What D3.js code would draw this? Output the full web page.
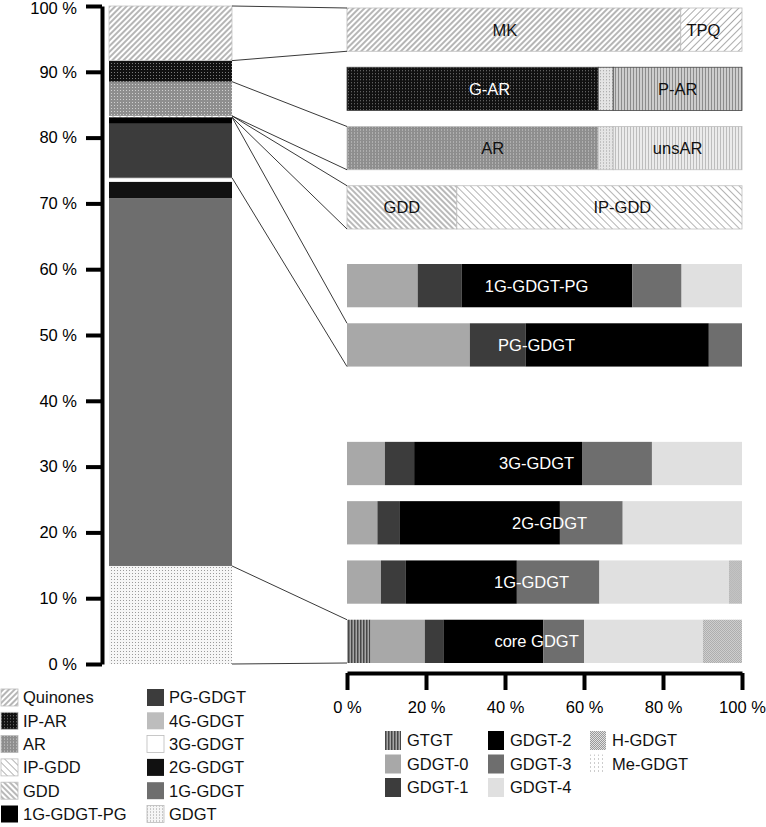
<!DOCTYPE html>
<head>
  <meta charset="utf-8">
  <script src="https://cdn.jsdelivr.net/npm/d3@7"></script>
</head>

<style>
  body { margin: 0; background: #fff; }
  svg text { font-family: "Liberation Sans", Arial, Helvetica, sans-serif; }
</style>
<body>
<script>

// ---- data ----
// left stacked bar, bottom to top (% of total lipids)
var stackCats = ["GDGT", "1G-GDGT", "2G-GDGT", "3G-GDGT", "4G-GDGT", "PG-GDGT",
                 "1G-GDGT-PG", "GDD", "IP-GDD", "AR", "IP-AR", "Quinones"];
var stackVals = [14.9, 55.9, 2.5, 0.5, 0.1, 8.2, 1.0, 0.05, 0.15, 5.2, 3.2, 8.3];

// upper breakdown rows
var upperRows = ["Quinones", "IP-AR", "AR", "GDD"];
var quinoneParts = ["MK", "TPQ"],              quinoneVals = [84.5, 15.5];
var ipArParts    = ["G-AR", "minor", "P-AR"],  ipArVals    = [63.6, 3.8, 32.6];
var arParts      = ["AR", "minor", "unsAR"],   arVals      = [63.6, 3.8, 32.6];
var gddParts     = ["GDD", "IP-GDD"],          gddVals     = [27.8, 72.2];

// core lipid composition of the GDGT classes
var coreTypes = ["GTGT", "GDGT-0", "GDGT-1", "GDGT-2", "GDGT-3", "GDGT-4", "H-GDGT", "Me-GDGT"];
var lowerRows = ["1G-GDGT-PG", "PG-GDGT", "4G-GDGT", "3G-GDGT", "2G-GDGT", "1G-GDGT", "core GDGT"];
var core1GPG  = [0,   17.9, 11.1, 43.2, 12.5, 15.3, 0,   0];
var corePG    = [0,   31.1, 14.1, 46.4,  8.4,  0,   0,   0];
var core4G    = null;
var core3G    = [0,    9.6,  7.4, 42.5, 17.7, 22.8, 0,   0];
var core2G    = [0,    7.7,  5.7, 40.5, 15.9, 30.2, 0,   0];
var core1G    = [0,    8.6,  6.3, 28.1, 20.9, 32.8, 3.3, 0];
var coreCore  = [6.0, 13.7,  4.7, 25.3, 10.3, 30.1, 9.9, 0];

var leftTicks = d3.range(0, 101, 10);
var bottomTicks = d3.range(0, 101, 20);

// ---- layout ----
var width = 766, height = 827, fontSize = 16.5;

var svg = d3.select("body").append("svg")
    .attr("width", width)
    .attr("height", height);

var defs = svg.append("defs");

function hatch(id, size, color, w, angle) {
  var p = defs.append("pattern").attr("id", id)
      .attr("patternUnits", "userSpaceOnUse")
      .attr("width", size).attr("height", size)
      .attr("patternTransform", "rotate(" + angle + ")");
  p.append("rect").attr("width", size).attr("height", size).attr("fill", "#fff");
  p.append("line").attr("x1", size / 2).attr("x2", size / 2).attr("y1", 0).attr("y2", size)
      .attr("stroke", color).attr("stroke-width", w);
}
function dots(id, size, bg, fg, r) {
  var p = defs.append("pattern").attr("id", id)
      .attr("patternUnits", "userSpaceOnUse")
      .attr("width", size).attr("height", size);
  p.append("rect").attr("width", size).attr("height", size).attr("fill", bg);
  p.append("rect").attr("width", r).attr("height", r).attr("fill", fg);
}
function vlines(id, size, bg, fg, w) {
  var p = defs.append("pattern").attr("id", id)
      .attr("patternUnits", "userSpaceOnUse")
      .attr("width", size).attr("height", size);
  p.append("rect").attr("width", size).attr("height", size).attr("fill", bg);
  p.append("rect").attr("width", w).attr("height", size).attr("fill", fg);
}
function checker(id, bg, fg) {
  var p = defs.append("pattern").attr("id", id)
      .attr("patternUnits", "userSpaceOnUse")
      .attr("width", 2).attr("height", 2);
  p.append("rect").attr("width", 2).attr("height", 2).attr("fill", bg);
  p.append("rect").attr("width", 1).attr("height", 1).attr("fill", fg);
  p.append("rect").attr("x", 1).attr("y", 1).attr("width", 1).attr("height", 1).attr("fill", fg);
}

hatch("p-quin", 4, "#8e8e8e", 1.3, 45);
hatch("p-tpq", 5, "#ababab", 1, 45);
hatch("p-gdd", 4, "#8a8a8a", 1.2, -45);
hatch("p-ipgdd", 5, "#b4b4b4", 1, -45);
dots("p-ipar", 3, "#111", "#7a7a7a", 1);
dots("p-ar", 3, "#8e8e8e", "#cfcfcf", 1);
dots("p-minor", 3, "#e4e4e4", "#9c9c9c", 1);
vlines("p-par", 3, "#cdcdcd", "#8c8c8c", 1);
vlines("p-unsar", 3, "#ebebeb", "#bdbdbd", 1);
dots("p-gdgt", 3, "#f6f6f6", "#9a9a9a", 1);
vlines("p-gtgt", 3, "#a6a6a6", "#474747", 1.5);
checker("p-hgdgt", "#e2e2e2", "#9a9a9a");
dots("p-megdgt", 4, "#ffffff", "#9a9a9a", 1);

var fills = {
  "Quinones": "url(#p-quin)", "IP-AR": "url(#p-ipar)", "AR": "url(#p-ar)",
  "IP-GDD": "url(#p-ipgdd)", "GDD": "url(#p-gdd)", "1G-GDGT-PG": "#000",
  "PG-GDGT": "#3c3c3c", "4G-GDGT": "#bdbdbd", "3G-GDGT": "#fff",
  "2G-GDGT": "#111", "1G-GDGT": "#6e6e6e", "GDGT": "url(#p-gdgt)",
  "MK": "url(#p-quin)", "TPQ": "url(#p-tpq)", "G-AR": "url(#p-ipar)",
  "minor": "url(#p-minor)", "P-AR": "url(#p-par)", "unsAR": "url(#p-unsar)",
  "GTGT": "url(#p-gtgt)", "GDGT-0": "#a8a8a8", "GDGT-1": "#3c3c3c",
  "GDGT-2": "#000", "GDGT-3": "#6e6e6e", "GDGT-4": "#e0e0e0",
  "H-GDGT": "url(#p-hgdgt)", "Me-GDGT": "url(#p-megdgt)"
};
function isPattern(k) { return String(fills[k]).indexOf("url") === 0; }

// small horizontal nudges for the in-bar labels
var labelNudge = {"MK": -9, "TPQ": -8, "G-AR": 17, "AR": 20, "IP-GDD": 23, "2G-GDGT": 13, "1G-GDGT": -5};

// scales
var yL = d3.scaleLinear().domain([0, 100]).range([664, 6]);
var xR = d3.scaleLinear().domain([0, 100]).range([347, 742]);
var barX0 = 109, barX1 = 232;

var yUp = d3.scaleBand().domain(upperRows).range([8, 229]).paddingInner(0.27).paddingOuter(0);
var yLo = d3.scaleBand().domain(lowerRows).range([264, 663]).paddingInner(0.27).paddingOuter(0);

// ---- left stacked bar ----
var stackRow = {};
stackCats.forEach(function(c, i) { stackRow[c] = stackVals[i]; });
var series = d3.stack().keys(stackCats)([stackRow]);
var segByKey = {};
series.forEach(function(s) { segByKey[s.key] = s[0]; });

svg.append("g").selectAll("rect")
    .data(series)
  .enter().append("rect")
    .attr("x", barX0)
    .attr("width", barX1 - barX0)
    .attr("y", function(d) { return yL(d[0][1]); })
    .attr("height", function(d) { return yL(d[0][0]) - yL(d[0][1]); })
    .attr("fill", function(d) { return fills[d.key]; })
    .attr("stroke", function(d) { return d.key == "Quinones" ? "#c4c4c4" : "none"; })
    .attr("stroke-width", 0.8);

// left axis
var leftAxis = svg.append("g")
    .attr("transform", "translate(102,0)")
    .call(d3.axisLeft(yL).tickValues(leftTicks).tickFormat(function(d) { return d + " %"; })
      .tickSize(16).tickSizeOuter(0).tickPadding(9));
leftAxis.select(".domain").attr("stroke-width", 4).attr("stroke", "#000");
leftAxis.selectAll(".tick line").attr("stroke-width", 4).attr("stroke", "#000");
leftAxis.selectAll("text").attr("font-size", fontSize).attr("fill", "#000")
    .style("font-family", "'Liberation Sans', Arial, sans-serif")
    .attr("dy", function(d) { return d == 100 ? "0.45em" : "0.32em"; });

// ---- right breakdown bars ----
function segments(parts, vals) {
  var cum = d3.cumsum(vals);
  return parts.map(function(p, i) { return {key: p, x0: cum[i] - vals[i], x1: cum[i]}; });
}

var upperData = [
  {row: "Quinones", segs: segments(quinoneParts, quinoneVals), border: "#bdbdbd"},
  {row: "IP-AR", segs: segments(ipArParts, ipArVals), border: "#444"},
  {row: "AR", segs: segments(arParts, arVals), border: "#bdbdbd"},
  {row: "GDD", segs: segments(gddParts, gddVals), border: "#bdbdbd"}
];
var lowerVals = [core1GPG, corePG, core4G, core3G, core2G, core1G, coreCore];
var lowerData = lowerRows.map(function(r, i) {
  return {row: r, segs: lowerVals[i] ? segments(coreTypes, lowerVals[i]).filter(function(s) { return s.x1 > s.x0; }) : []};
});

var upG = svg.append("g").selectAll("g")
    .data(upperData)
  .enter().append("g")
    .attr("transform", function(d) { return "translate(0," + yUp(d.row) + ")"; });

upG.selectAll("rect")
    .data(function(d) { return d.segs; })
  .enter().append("rect")
    .attr("x", function(d) { return xR(d.x0); })
    .attr("width", function(d) { return xR(d.x1) - xR(d.x0); })
    .attr("height", yUp.bandwidth())
    .attr("fill", function(d) { return fills[d.key]; })
    .attr("stroke", function(d) { return this.parentNode.__data__.border; })
    .attr("stroke-width", 0.8);

upG.selectAll("text")
    .data(function(d) { return d.segs.filter(function(s) { return s.key != "minor"; }); })
  .enter().append("text")
    .attr("x", function(d) { return xR((d.x0 + d.x1) / 2) + (labelNudge[d.key] || 0); })
    .attr("y", yUp.bandwidth() / 2)
    .attr("dy", "0.36em")
    .attr("text-anchor", "middle")
    .attr("font-size", fontSize)
    .attr("fill", function(d) { return d.key == "G-AR" ? "#fff" : "#111"; })
    .text(function(d) { return d.key; });

var loG = svg.append("g").selectAll("g")
    .data(lowerData)
  .enter().append("g")
    .attr("transform", function(d) { return "translate(0," + yLo(d.row) + ")"; });

loG.selectAll("rect")
    .data(function(d) { return d.segs; })
  .enter().append("rect")
    .attr("x", function(d) { return xR(d.x0); })
    .attr("width", function(d) { return xR(d.x1) - xR(d.x0); })
    .attr("height", yLo.bandwidth())
    .attr("fill", function(d) { return fills[d.key]; });

loG.filter(function(d) { return d.segs.length > 0; })
  .append("text")
    .attr("x", function(d) { return xR(48) + (labelNudge[d.row] || 0); })
    .attr("y", yLo.bandwidth() / 2)
    .attr("dy", "0.36em")
    .attr("text-anchor", "middle")
    .attr("font-size", fontSize)
    .attr("fill", "#fff")
    .text(function(d) { return d.row; });

// bottom axis
var bottomAxis = svg.append("g")
    .attr("transform", "translate(0,673)")
    .call(d3.axisBottom(xR).tickValues(bottomTicks).tickFormat(function(d) { return d + " %"; })
      .tickSize(17).tickSizeOuter(0).tickPadding(11));
bottomAxis.select(".domain").attr("stroke-width", 4).attr("stroke", "#000");
bottomAxis.selectAll(".tick line").attr("stroke-width", 4).attr("stroke", "#000");
bottomAxis.selectAll("text").attr("font-size", fontSize).attr("fill", "#000")
    .style("font-family", "'Liberation Sans', Arial, sans-serif");

// ---- connector lines ----
var connectors = [
  {from: "Quinones", to: "Quinones", row: "Quinones", scale: yUp},
  {from: "AR", to: "AR", row: "AR", scale: yUp},
  {from: "GDD", to: "IP-GDD", row: "GDD", scale: yUp},
  {from: "PG-GDGT", to: "1G-GDGT-PG", row: "PG-GDGT", scale: yLo},
  {from: "GDGT", to: "GDGT", row: "core GDGT", scale: yLo}
];
var linkLines = [];
connectors.forEach(function(c) {
  linkLines.push({y1: yL(segByKey[c.to][1]), y2: c.scale(c.row)});
  linkLines.push({y1: yL(segByKey[c.from][0]), y2: c.scale(c.row) + c.scale.bandwidth()});
});
svg.append("g").selectAll("line")
    .data(linkLines)
  .enter().append("line")
    .attr("x1", barX1).attr("x2", xR(0))
    .attr("y1", function(d) { return d.y1; })
    .attr("y2", function(d) { return d.y2; })
    .attr("stroke", "#222")
    .attr("stroke-width", 0.9);

// ---- legends ----
var leftLegend = stackCats.slice().reverse();
var lgL = svg.append("g").selectAll("g")
    .data(leftLegend)
  .enter().append("g")
    .attr("transform", function(d, i) {
      return "translate(" + (i < 6 ? 1 : 147) + "," + (689 + (i % 6) * 23.3) + ")";
    });
lgL.append("rect")
    .attr("width", 17).attr("height", 17)
    .attr("fill", function(d) { return fills[d]; })
    .attr("stroke", function(d) { return (isPattern(d) || d == "3G-GDGT") ? "#bbb" : "none"; })
    .attr("stroke-width", 0.8);
lgL.append("text")
    .attr("x", 22).attr("y", 8.5).attr("dy", "0.36em")
    .attr("font-size", fontSize).attr("fill", "#111")
    .text(function(d) { return d; });

var lgB = svg.append("g").selectAll("g")
    .data(coreTypes)
  .enter().append("g")
    .attr("transform", function(d, i) {
      return "translate(" + [385, 488, 590][Math.floor(i / 3)] + "," + (731 + (i % 3) * 23.5) + ")";
    });
lgB.append("rect")
    .attr("width", 16).attr("height", 19)
    .attr("fill", function(d) { return fills[d]; });
lgB.append("text")
    .attr("x", 22).attr("y", 9.5).attr("dy", "0.36em")
    .attr("font-size", fontSize).attr("fill", "#111")
    .text(function(d) { return d; });

</script>
</body>
